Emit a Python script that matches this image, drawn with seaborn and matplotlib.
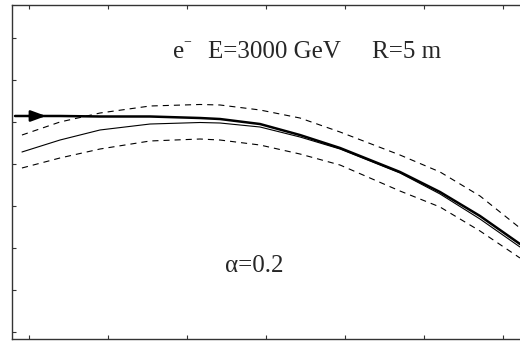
import matplotlib
matplotlib.use("Agg")
import matplotlib.pyplot as plt
import seaborn as sns
import numpy as np
import pandas as pd

# ---- data (axis units: one tick spacing = 1) ----
x_main = [-0.177, 0.392, 0.899, 1.532, 2.165, 2.418, 2.924, 3.430, 3.937, 4.696, 5.203, 5.709, 6.215]
y_main = [5.143, 5.143, 5.131, 5.131, 5.095, 5.071, 4.952, 4.690, 4.381, 3.810, 3.333, 2.762, 2.095]

x_side = [-0.089, 0.392, 0.899, 1.532, 2.165, 2.418, 2.924, 3.430, 3.937, 4.696, 5.203, 5.709, 6.215]
y_thin = [4.286, 4.571, 4.810, 4.952, 4.988, 4.976, 4.881, 4.643, 4.357, 3.786, 3.286, 2.690, 2.024]
y_upper = [4.690, 5.000, 5.214, 5.381, 5.417, 5.405, 5.286, 5.095, 4.762, 4.214, 3.810, 3.238, 2.476]
y_lower = [3.905, 4.143, 4.357, 4.548, 4.595, 4.571, 4.452, 4.238, 3.976, 3.357, 2.976, 2.405, 1.762]

x_ticks = [0, 1, 2, 3, 4, 5, 6]
y_ticks = [0, 1, 2, 3, 4, 5, 6, 7]

title_particle = "e"
title_energy = "E=3000 GeV"
title_radius = "R=5 m"
alpha_label = "α=0.2"

sns.set_style("ticks")
plt.rcParams['font.family'] = ['Liberation Serif', 'DejaVu Serif']

W, H = 520, 341
fig = plt.figure(figsize=(W / 100, H / 100), dpi=100)
left_px, right_px, top_px, bottom_px = 12, 535, 5, 339
ax = fig.add_axes([left_px / W, 1 - bottom_px / H, (right_px - left_px) / W, (bottom_px - top_px) / H])

df_main = pd.DataFrame({"x": x_main, "y": y_main})
df_side = pd.DataFrame({"x": x_side, "thin": y_thin, "upper": y_upper, "lower": y_lower})

sns.lineplot(data=df_side, x="x", y="upper", ax=ax, color="black", linewidth=0.8,
             estimator=None, sort=False, dashes=False)
sns.lineplot(data=df_side, x="x", y="lower", ax=ax, color="black", linewidth=0.8,
             estimator=None, sort=False, dashes=False)
for ln in ax.lines[-2:]:
    ln.set_linestyle((0, (5.5, 4.5)))
sns.lineplot(data=df_side, x="x", y="thin", ax=ax, color="black", linewidth=0.8,
             estimator=None, sort=False)
sns.lineplot(data=df_main, x="x", y="y", ax=ax, color="black", linewidth=1.8,
             estimator=None, sort=False)

# arrowhead on the incoming trajectory
ax.annotate("", xy=(0.215, y_main[0]), xytext=(0.0, y_main[0]),
            arrowprops=dict(arrowstyle="-|>,head_length=0.6,head_width=0.22",
                            color="black", lw=1.8, mutation_scale=15, shrinkA=0, shrinkB=0))

ax.set_xlim((left_px - 29) / 79, (right_px - 29) / 79)
ax.set_ylim((332 - bottom_px) / 42, (332 - top_px) / 42)
ax.set_xticks(x_ticks)
ax.set_yticks(y_ticks)
ax.tick_params(direction="in", length=3, width=0.8, top=True, right=True,
               labelbottom=False, labelleft=False, color="#333333")
ax.set_xlabel("")
ax.set_ylabel("")
for sp in ax.spines.values():
    sp.set_linewidth(1.0)
    sp.set_color("#333333")

fs = 18
fig.text(173 / W, 1 - 58 / H, title_particle, fontsize=fs, va="baseline", ha="left")
fig.text(183 / W, 1 - 45 / H, "−", fontsize=10, va="baseline", ha="left")
fig.text(208 / W, 1 - 58 / H, title_energy, fontsize=fs, va="baseline", ha="left")
fig.text(372 / W, 1 - 58 / H, title_radius, fontsize=fs, va="baseline", ha="left")
fig.text(225 / W, 1 - 272 / H, alpha_label, fontsize=fs, va="baseline", ha="left")

fig.savefig("out.png", dpi=100)
